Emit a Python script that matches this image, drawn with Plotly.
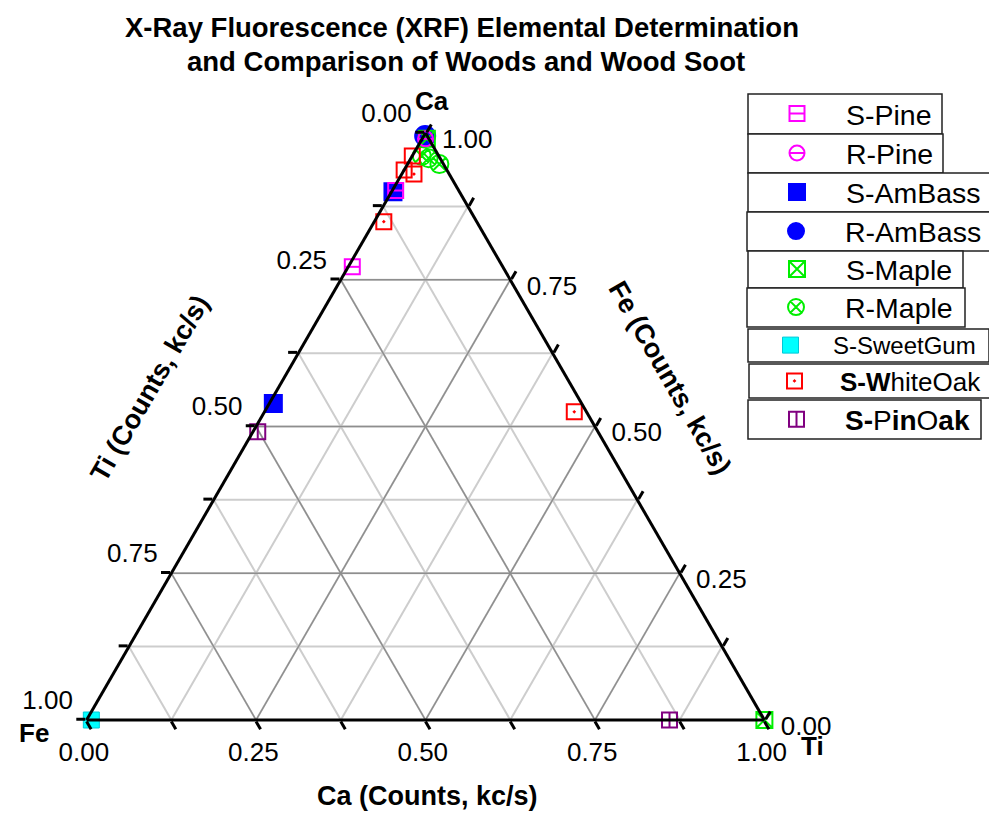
import plotly.graph_objects as go

FONT = "Liberation Sans, Arial, sans-serif"

# ---------------- text ----------------
title_lines = ["X-Ray Fluorescence (XRF) Elemental Determination",
               "and Comparison of Woods and Wood Soot"]
corner_labels = ["Ca", "Fe", "Ti"]
side_titles = ["Ti (Counts, kc/s)", "Fe (Counts, kc/s)", "Ca (Counts, kc/s)"]

# ticks (labels as printed in the reference, reversed w.r.t. plotly's axis direction)
tick_vals = [0, 0.125, 0.25, 0.375, 0.5, 0.625, 0.75, 0.875, 1.0]
tick_text = ["1.00", "", "0.75", "", "0.50", "", "0.25", "", "0.00"]
major_vals = [0.25, 0.5, 0.75]

# ---------------- data (fractions: Ca = top corner, Fe = bottom-left, Ti = bottom-right) -------------
s_pine_ca = [0.902, 0.772]
s_pine_fe = [0.093, 0.222]
s_pine_ti = [0.005, 0.006]

r_pine_ca = [0.990]
r_pine_fe = [0.005]
r_pine_ti = [0.005]

s_ambass_ca = [0.900, 0.539]
s_ambass_fe = [0.098, 0.455]
s_ambass_ti = [0.002, 0.006]

r_ambass_ca = [0.995]
r_ambass_fe = [0.003]
r_ambass_ti = [0.002]

s_maple_ca = [0.990, 0.0]
s_maple_fe = [0.003, 0.0]
s_maple_ti = [0.007, 1.0]

r_maple_ca = [0.961, 0.957, 0.947]
r_maple_fe = [0.025, 0.017, 0.006]
r_maple_ti = [0.014, 0.026, 0.047]

s_sweetgum_ca = [0.0]
s_sweetgum_fe = [0.993]
s_sweetgum_ti = [0.007]

s_whiteoak_ca = [0.961, 0.937, 0.930, 0.849, 0.525]
s_whiteoak_fe = [0.039, 0.063, 0.052, 0.137, 0.018]
s_whiteoak_ti = [0.000, 0.000, 0.018, 0.014, 0.457]

s_pinoak_ca = [0.491, 0.0]
s_pinoak_fe = [0.502, 0.140]
s_pinoak_ti = [0.007, 0.860]

# ---------------- styles ----------------
series = [
    dict(name="S-Pine", ca=s_pine_ca, fe=s_pine_fe, ti=s_pine_ti, symbol="square-open",
         overlay="line-ew-open", color="#ff00ff", size=15, fsize=28.5, iw=88, box=(748, 942, 94, 134)),
    dict(name="R-Pine", ca=r_pine_ca, fe=r_pine_fe, ti=r_pine_ti, symbol="circle-open",
         overlay="line-ew-open", color="#ff00ff", size=15, fsize=28.5, iw=88, box=(748, 943, 134, 173)),
    dict(name="S-AmBass", ca=s_ambass_ca, fe=s_ambass_fe, ti=s_ambass_ti, symbol="square",
         overlay=None, color="#0000ff", size=17, fsize=28.5, iw=88, box=(748, 993, 173, 212)),
    dict(name="R-AmBass", ca=r_ambass_ca, fe=r_ambass_fe, ti=r_ambass_ti, symbol="circle",
         overlay=None, color="#0000ff", size=20, fsize=28.5, iw=88, box=(747, 993, 212, 251)),
    dict(name="S-Maple", ca=s_maple_ca, fe=s_maple_fe, ti=s_maple_ti, symbol="square-x-open",
         overlay=None, color="#00ee00", size=16, fsize=28.5, iw=88, box=(748, 963, 251, 288)),
    dict(name="R-Maple", ca=r_maple_ca, fe=r_maple_fe, ti=r_maple_ti, symbol="circle-x-open",
         overlay=None, color="#00ee00", size=18, fsize=28.5, iw=88, box=(747, 965, 288, 327)),
    dict(name="S-SweetGum", ca=s_sweetgum_ca, fe=s_sweetgum_fe, ti=s_sweetgum_ti, symbol="square",
         overlay=None, color="#00ffff", size=16, fsize=24, iw=75, box=(748, 989, 329, 362)),
    dict(name="<b>S-W</b>hiteOak", ca=s_whiteoak_ca, fe=s_whiteoak_fe, ti=s_whiteoak_ti,
         symbol="square-open-dot", overlay=None, color="#ff0000", size=15, fsize=26, iw=81,
         box=(749, 992, 364, 398)),
    dict(name="<b>S-</b>P<b>in</b>O<b>ak</b>", ca=s_pinoak_ca, fe=s_pinoak_fe, ti=s_pinoak_ti,
         symbol="square-open", overlay="line-ns-open", color="#800080", size=15, fsize=28, iw=87,
         box=(748, 981, 400, 439)),
]

W, H = 997, 825
OFF = 8  # the page body adds an 8 px margin around the figure


def px(x):
    return (x - OFF) / W


def py(y):
    return 1 - (y - OFF) / H


fig = go.Figure()

# darker major grid lines (derived from the major tick values)
ga, gb, gc = [], [], []
for v in major_vals:
    ga += [v, v, None, 1 - v, 0, None, 1 - v, 0, None]
    gb += [1 - v, 0, None, v, v, None, 0, 1 - v, None]
    gc += [0, 1 - v, None, 0, 1 - v, None, v, v, None]
fig.add_trace(go.Scatterternary(a=ga, b=gb, c=gc, mode="lines",
                                line=dict(color="#8e8e8e", width=1.5),
                                hoverinfo="skip", showlegend=False))

draw_order = [3, 4, 5, 2, 0, 1, 6, 7, 8]
legend_idx = {i: ("legend" if i == 0 else f"legend{i + 1}") for i in range(len(series))}
extra = len(series)
overlay_legend = {}
for i, s in enumerate(series):
    if s["overlay"]:
        extra += 1
        overlay_legend[i] = f"legend{extra}"

for i in draw_order:
    s = series[i]
    line = dict(color=s["color"], width=2)
    if s["name"] == "S-SweetGum":
        line = dict(color="#00c8d8", width=1)
    fig.add_trace(go.Scatterternary(
        a=s["ca"], b=s["fe"], c=s["ti"], mode="markers", name=s["name"],
        marker=dict(symbol=s["symbol"], size=s["size"], color=s["color"], line=line),
        cliponaxis=False, legend=legend_idx[i]))
    if s["overlay"]:
        fig.add_trace(go.Scatterternary(
            a=s["ca"], b=s["fe"], c=s["ti"], mode="markers", name=" ",
            marker=dict(symbol=s["overlay"], size=s["size"] / 1.45, color=s["color"],
                        line=dict(color=s["color"], width=2)),
            cliponaxis=False, legend=overlay_legend[i]))

NB = "\u00a0"
axis_common = dict(
    tickmode="array", tickvals=tick_vals, ticktext=tick_text,
    ticks="outside", ticklen=9, tickwidth=2.5, tickcolor="black",
    showline=True, linecolor="black", linewidth=3,
    showgrid=True, gridcolor="#cdcdcd", gridwidth=1.5,
    tickfont=dict(size=26, family=FONT, color="black"),
    title=dict(text=""),
)
# left-side labels sit above their ticks, right-side labels level with them
aaxis = dict(axis_common)
aaxis["ticktext"] = [t + "<br>" + NB if t else "" for t in tick_text]
baxis = dict(axis_common)
baxis["ticktext"] = [t + NB + NB if t else "" for t in tick_text]
caxis = dict(axis_common)
caxis["ticktext"] = [NB + "<br>" + NB + t if t else "" for t in tick_text]

layout = dict(
    width=W, height=H, autosize=False,
    margin=dict(l=0, r=0, t=0, b=0),
    paper_bgcolor="white", plot_bgcolor="white",
    font=dict(family=FONT, color="black"),
    ternary=dict(sum=1, bgcolor="white",
                 domain=dict(x=[78.5 / W, 756.5 / W], y=[113 / H, 700 / H]),
                 aaxis=aaxis, baxis=baxis, caxis=caxis),
)

shapes = []
for i, s in enumerate(series):
    x0, x1, y0, y1 = s["box"]
    shapes.append(dict(type="rect", xref="paper", yref="paper",
                       x0=px(x0), x1=px(x1), y0=py(y1), y1=py(y0),
                       line=dict(color="#222222", width=1.5), fillcolor="white", layer="below"))
    leg = dict(x=px(x0), xanchor="left", y=py((y0 + y1) / 2), yanchor="middle",
               bgcolor="rgba(0,0,0,0)", borderwidth=0, itemwidth=s["iw"],
               font=dict(size=s["fsize"], family=FONT, color="black"))
    layout[legend_idx[i]] = leg
    if i in overlay_legend:
        layout[overlay_legend[i]] = dict(leg)
layout["shapes"] = shapes

annotations = [
    dict(text="<b>" + title_lines[0] + "</b>", x=px(462), y=py(27), font=dict(size=27.5)),
    dict(text="<b>" + title_lines[1] + "</b>", x=px(466), y=py(62), font=dict(size=27.5)),
    dict(text="<b>" + corner_labels[0] + "</b>", x=px(432), y=py(101), font=dict(size=26)),
    dict(text="<b>" + corner_labels[1] + "</b>", x=px(34), y=py(733), font=dict(size=26)),
    dict(text="<b>" + corner_labels[2] + "</b>", x=px(812), y=py(746), font=dict(size=26)),
    dict(text="<b>" + side_titles[0] + "</b>", x=px(150), y=py(388), textangle=-60, font=dict(size=27)),
    dict(text="<b>" + side_titles[1] + "</b>", x=px(670), y=py(378), textangle=60, font=dict(size=27)),
    dict(text="<b>" + side_titles[2] + "</b>", x=px(427), y=py(796), font=dict(size=27)),
]
for an in annotations:
    an.update(xref="paper", yref="paper", showarrow=False, xanchor="center", yanchor="middle")
    an["font"].update(family=FONT, color="black")
layout["annotations"] = annotations

fig.update_layout(**layout)
fig.write_html("out.html")
